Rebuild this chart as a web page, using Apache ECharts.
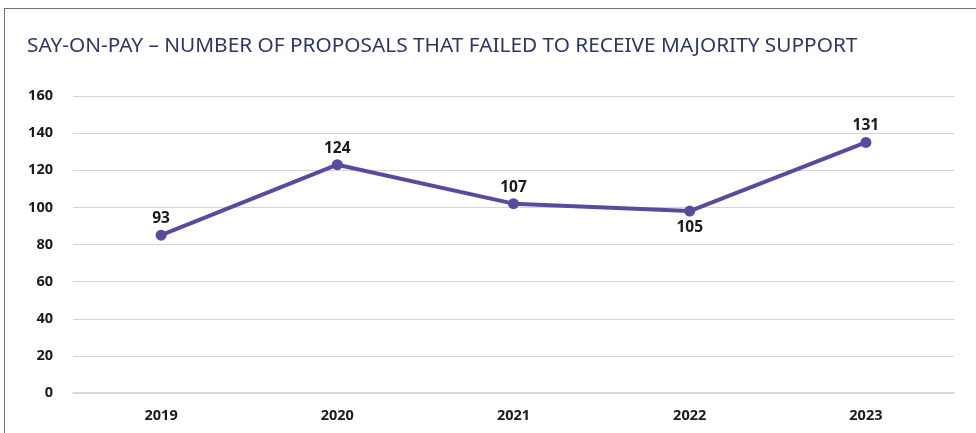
<!DOCTYPE html>
<html>
<head>
<meta charset="utf-8">
<script src="https://cdn.jsdelivr.net/npm/echarts@6/dist/echarts.min.js"></script>
<style>
  html, body { margin: 0; padding: 0; background: #fff; }
  .frame {
    position: absolute; left: 4px; top: 8px; width: 1000px; height: 500px;
    border-left: 1px solid #6e7279; border-top: 1px solid #6e7279;
  }
  #chart { position: absolute; left: 0; top: 0; width: 976px; height: 433px; }
</style>
</head>
<body>
<div class="frame"></div>
<div id="chart"></div>
<script>
// data
const years = ['2019', '2020', '2021', '2022', '2023']
const plotted = [85, 123, 102, 98, 135]
const labelTexts = ['93', '124', '107', '105', '131']
const labelBelow = [false, false, false, true, false]
const yTicks = [0, 20, 40, 60, 80, 100, 120, 140, 160]

const chart = echarts.init(document.getElementById('chart'))

const option = {
  animation: false,
  title: {
    text: 'SAY-ON-PAY – NUMBER OF PROPOSALS THAT FAILED TO RECEIVE MAJORITY SUPPORT',
    left: 22,
    top: 31,
    textStyle: {
      fontFamily: 'Noto Sans',
      fontSize: 20.8,
      fontWeight: 'normal',
      color: '#2d3766'
    }
  },
  grid: {
    left: 73,
    right: 22,
    top: 96,
    bottom: 40,
    containLabel: false
  },
  xAxis: {
    type: 'category',
    data: years,
    boundaryGap: true,
    axisLine: { lineStyle: { color: '#cfcfd4', width: 1.5 } },
    axisTick: { show: false },
    axisLabel: {
      margin: 15,
      color: '#1a1a1a',
      fontFamily: 'Noto Sans',
      fontWeight: 'bold',
      fontSize: 14.5
    }
  },
  yAxis: {
    type: 'value',
    min: yTicks[0],
    max: yTicks[yTicks.length - 1],
    interval: 20,
    axisLine: { show: false },
    axisTick: { show: false },
    axisLabel: {
      margin: 20,
      color: '#1a1a1a',
      fontFamily: 'Noto Sans',
      fontWeight: 'bold',
      fontSize: 14.5
    },
    splitLine: { lineStyle: { color: '#d3d3d8', width: 1.2 } }
  },
  series: [
    {
      type: 'line',
      data: plotted.map((v, i) => ({
        value: v,
        label: { position: labelBelow[i] ? 'bottom' : 'top' }
      })),
      symbol: 'circle',
      symbolSize: 11,
      lineStyle: { color: '#5a4a9f', width: 4 },
      itemStyle: { color: '#5a4a9f' },
      label: {
        show: true,
        distance: 3,
        formatter: p => labelTexts[p.dataIndex],
        color: '#1a1a1a',
        fontFamily: 'Noto Sans',
        fontWeight: 'bold',
        fontSize: 15.5
      }
    }
  ]
}

chart.setOption(option)
</script>
</body>
</html>
